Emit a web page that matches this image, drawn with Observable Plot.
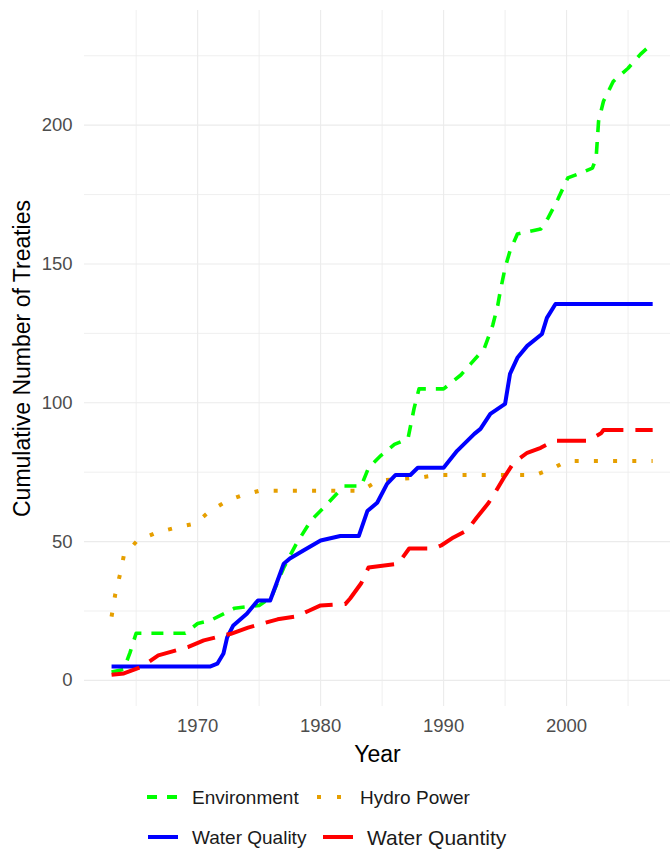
<!DOCTYPE html>
<html><head><meta charset="utf-8">
<script src="https://cdn.jsdelivr.net/npm/d3@7"></script>
<script src="https://cdn.jsdelivr.net/npm/@observablehq/plot@0.6"></script>
<style>
body{margin:0;background:#fff;font-family:"Liberation Sans",Arial,sans-serif;}
#wrap{position:relative;width:670px;height:850px;overflow:hidden;}
.sw{position:absolute;}
.lt{position:absolute;color:#1a1a1a;font-size:19px;white-space:nowrap;line-height:1;transform:translateY(-50%);}
</style></head><body><div id="wrap"></div>
<script>
// Environment (green dashed)
const envYears  = [1963, 1964, 1964.5, 1965, 1969, 1970, 1971, 1973, 1975, 1976, 1977, 1978, 1979.2, 1980.2, 1981.9, 1983.3, 1983.9, 1984.9, 1986, 1987.1, 1987.6, 1988, 1990, 1991.4, 1992.2, 1993.3, 1994, 1994.4, 1994.6, 1995, 1995.4, 1996, 1997.9, 1998.5, 1999.3, 2000.1, 2001.1, 2002.1, 2002.4, 2002.6, 2003, 2003.8, 2005, 2006, 2007];
const envValues = [3, 4, 10, 17, 17, 20.5, 21.5, 26, 27, 30, 40.6, 49, 57.5, 62, 70, 70, 76.6, 81, 85, 87, 98, 105, 105, 110, 114, 119.5, 128, 135, 140, 148.6, 154.7, 160.8, 162.6, 166.6, 173.4, 181, 182.7, 184.5, 188, 201.4, 208.6, 215.8, 220.5, 225.5, 229.5];
// Hydro Power (orange dotted)
const hydroYears  = [1963, 1963.3, 1963.7, 1964, 1965.1, 1966.7, 1968.2, 1969.8, 1971, 1972.4, 1973.5, 1975, 1983.3, 1984.7, 1986.5, 1988, 1989.5, 1997.5, 1999, 2000, 2007];
const hydroValues = [23, 31, 38.4, 45, 50.4, 53.3, 55, 56.5, 61, 64.7, 66.5, 68.3, 68.3, 72, 72.6, 73, 74, 74, 76.6, 79, 79];
// Water Quality (blue solid)
const qualYears  = [1963, 1971, 1971.6, 1972.1, 1972.4, 1972.9, 1974, 1974.9, 1975.9, 1976.5, 1977, 1977.5, 1978.6, 1980, 1981.6, 1983.1, 1983.8, 1984.6, 1985.4, 1986.1, 1987.3, 1987.9, 1990, 1991.1, 1992.5, 1993, 1993.8, 1995, 1995.4, 1996, 1996.8, 1998, 1998.4, 1999.1, 2007];
const qualValues = [5, 5, 6, 9.7, 15.5, 19.8, 24, 28.8, 28.8, 36, 42, 43.9, 46.8, 50.4, 52, 52, 61, 64, 70.8, 74, 74, 76.6, 76.6, 82.7, 88.8, 90.6, 96, 99.6, 110.4, 116.2, 120.5, 124.8, 130.6, 135.6, 135.6];
// Water Quantity (red long dash)
const quantYears  = [1963, 1964, 1965.4, 1966.8, 1969.2, 1970.5, 1972.7, 1974.1, 1976.5, 1978, 1979, 1980, 1982, 1982.4, 1983.3, 1983.9, 1986.3, 1987.2, 1989.2, 1989.8, 1990.8, 1991.9, 1992.7, 1993.6, 1994.1, 1994.9, 1995.7, 1996.8, 1997.9, 1999, 2001.7, 2002.8, 2003, 2007];
const quantValues = [2, 2.5, 4.8, 9, 12, 14.4, 16.8, 19, 22, 23, 25, 27, 27.5, 29.5, 35, 40.7, 42, 47.5, 47.5, 48.6, 51.5, 54, 58.7, 63.6, 67, 73, 78.4, 82, 83.8, 86.3, 86.3, 89, 90.2, 90.2];

const xMajorTicks = [1970, 1980, 1990, 2000];
const xMinorTicks = [1965, 1975, 1985, 1995, 2005];
const yMajorTicks = [0, 50, 100, 150, 200];
const yMinorTicks = [25, 75, 125, 175, 225];

const seriesNames = ["Environment", "Hydro Power", "Water Quality", "Water Quantity"];
const seriesColors = ["#00ff00", "#E69F00", "#0000ff", "#ff0000"];

const toRows = (ys, vs) => ys.map((y, i) => ({year: y, value: vs[i]}));
const envData = toRows(envYears, envValues);
const hydroData = toRows(hydroYears, hydroValues);
const qualData = toRows(qualYears, qualValues);
const quantData = toRows(quantYears, quantValues);

const grid = "#ebebeb";
const chart = Plot.plot({
  width: 670, height: 775,
  marginLeft: 84, marginRight: 0, marginTop: 10, marginBottom: 69,
  style: {fontFamily: "Liberation Sans, Arial, sans-serif", background: "white", overflow: "visible"},
  x: {domain: [1960.8, 2008.45]},
  y: {domain: [-9.4, 241.3]},
  marks: [
    Plot.ruleX(xMinorTicks, {stroke: grid, strokeWidth: 0.8}),
    Plot.ruleX(xMajorTicks, {stroke: grid, strokeWidth: 1.1}),
    Plot.ruleY(yMinorTicks, {stroke: grid, strokeWidth: 0.8}),
    Plot.ruleY(yMajorTicks, {stroke: grid, strokeWidth: 1.1}),
    Plot.line(envData, {x: "year", y: "value", stroke: seriesColors[0], strokeWidth: 3.6, strokeDasharray: "12,10", strokeLinecap: "butt", strokeLinejoin: "round"}),
    Plot.line(hydroData, {x: "year", y: "value", stroke: seriesColors[1], strokeWidth: 4, strokeDasharray: "4,15.2", strokeLinecap: "butt", strokeLinejoin: "round"}),
    Plot.line(qualData, {x: "year", y: "value", stroke: seriesColors[2], strokeWidth: 4, strokeLinecap: "butt", strokeLinejoin: "round"}),
    Plot.line(quantData, {x: "year", y: "value", stroke: seriesColors[3], strokeWidth: 4, strokeDasharray: "29,12", strokeLinecap: "butt", strokeLinejoin: "round"}),
    Plot.axisX(xMajorTicks, {tickSize: 0, tickPadding: 12, fontSize: 18.5, label: null, tickFormat: d => String(d)}),
    Plot.axisY(yMajorTicks, {tickSize: 0, tickPadding: 12, fontSize: 18.5, label: null}),
    Plot.text(["Year"], {frameAnchor: "bottom", dy: 48, fontSize: 23, fill: "#000", lineAnchor: "middle", textAnchor: "middle"}),
    Plot.text(["Cumulative Number of Treaties"], {frameAnchor: "left", dx: -62, rotate: -90, fontSize: 23, fill: "#000", lineAnchor: "middle", textAnchor: "middle"})
  ]
});
chart.querySelectorAll('g[aria-label$="tick label"]').forEach(g => { g.setAttribute("fill", "#4d4d4d"); });
const wrap = document.getElementById("wrap");
wrap.appendChild(chart);

// Legend (below the plot)
const legendItems = [
  {name: seriesNames[0], color: seriesColors[0], dash: "10,10", sx: 147, tx: 192, y: 797, fs: 19},
  {name: seriesNames[1], color: seriesColors[1], dash: "4,16",  sx: 317, tx: 360, y: 797, fs: 19},
  {name: seriesNames[2], color: seriesColors[2], dash: null,    sx: 148, tx: 192, y: 837, fs: 19},
  {name: seriesNames[3], color: seriesColors[3], dash: null,    sx: 323, tx: 367, y: 837, fs: 21}
];
const ns = "http://www.w3.org/2000/svg";
legendItems.forEach(it => {
  const s = document.createElementNS(ns, "svg");
  s.setAttribute("class", "sw");
  s.setAttribute("width", 32); s.setAttribute("height", 10);
  s.style.left = it.sx + "px"; s.style.top = (it.y - 5) + "px";
  const l = document.createElementNS(ns, "line");
  l.setAttribute("x1", 0); l.setAttribute("x2", it.name === "Hydro Power" ? 24 : 30);
  l.setAttribute("y1", 5); l.setAttribute("y2", 5);
  l.setAttribute("stroke", it.color); l.setAttribute("stroke-width", 4);
  if (it.dash) l.setAttribute("stroke-dasharray", it.dash);
  s.appendChild(l);
  wrap.appendChild(s);
  const t = document.createElement("div");
  t.className = "lt"; t.textContent = it.name;
  t.style.left = it.tx + "px"; t.style.top = it.y + "px"; t.style.fontSize = it.fs + "px";
  wrap.appendChild(t);
});
</script></body></html>
